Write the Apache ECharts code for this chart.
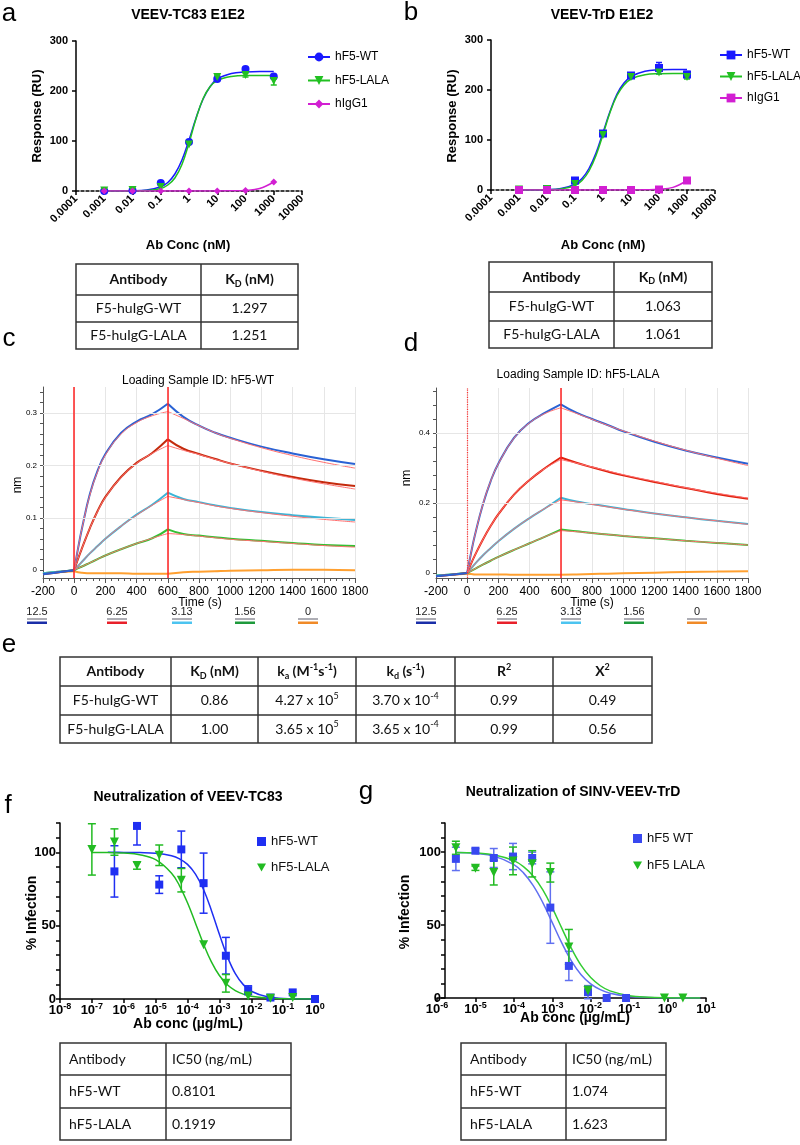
<!DOCTYPE html>
<html><head><meta charset="utf-8">
<script src="https://cdn.jsdelivr.net/npm/echarts@6/dist/echarts.min.js"></script>
<style>html,body{margin:0;padding:0;background:#fff}#c{width:800px;height:1145px}</style>
</head><body><div id="c"></div>
<script>
// ================= DATA =================
// Panels a / b : binding curves
const abConc = [0.001, 0.01, 0.1, 1, 10, 100, 1000];
const abTickLabels = ['0.0001','0.001','0.01','0.1','1','10','100','1000','10000'];
const aWT = [0, 1, 16, 98, 224, 244, 229];
const aWTErr = [0, 0, 0, 0, 3, 3, 4];
const aLALA = [1, 2, 8, 93, 228, 232, 220];
const aLALAErr = [0, 0, 0, 0, 3, 4, 8];
const aIgG = [0, 0, 0, 0, 0, 1, 18];
const abFitLog = [-3,-2,-1.5,-1,-0.75,-0.5,-0.25,0,0.25,0.5,0.75,1,1.5,2,2.5,3];
const aWTFit = [0.1,0.5,2,8.6,17,34,62,102,146,184,209,224,235,238,239,239];
const aLALAFit = [0,0.2,1,5,12,26,53,96,145,185,209,221,229,231,231,231];
const aIgGFit = [0,0,0,0,0,0,0,0,0,0,0,0,0.3,1.2,5,18];
const bWT = [0, 2, 19, 113, 229, 244, 231];
const bWTErr = [0, 0, 0, 0, 2, 11, 6];
const bLALA = [1, 2, 12, 110, 226, 235, 226];
const bLALAErr = [0, 0, 0, 0, 2, 3, 4];
const bIgG = [0, 0, 0, 0, 0, 1, 19];
const bWTFit = [0.1,0.7,2.9,11.8,23,43,74,115,157,192,214,227,237.6,240.3,241,241];
const bLALAFit = [0.05,0.5,2,9,19,38,69,111,155,189,210,222,230.6,232.6,233,233];
const bIgGFit = [0,0,0,0,0,0,0,0,0,0,0,0,0.3,1.3,5.3,19];

// Panels c / d : BLI sensorgrams (nm)
const bliTime = [-200,-100,0,25,50,100,150,200,300,400,500,600,700,800,900,1000,1200,1400,1600,1800];
const bliConcLabels = ['12.5','6.25','3.13','1.56','0'];
const cBlue   = [-0.008,-0.004,0,0.042,0.08,0.145,0.19,0.222,0.262,0.284,0.298,0.318,0.293,0.276,0.263,0.253,0.236,0.223,0.212,0.203];
const cRed    = [-0.008,-0.004,0,0.022,0.042,0.08,0.113,0.14,0.178,0.205,0.224,0.25,0.232,0.222,0.213,0.204,0.19,0.178,0.168,0.161];
const cCyan   = [-0.006,-0.003,0,0.008,0.016,0.032,0.046,0.06,0.084,0.106,0.125,0.148,0.136,0.13,0.124,0.119,0.111,0.105,0.1,0.096];
const cGreen  = [-0.006,-0.003,0,0.004,0.007,0.014,0.021,0.028,0.04,0.051,0.061,0.078,0.069,0.066,0.063,0.06,0.056,0.052,0.048,0.046];
const cOrange = [-0.007,-0.004,-0.002,-0.004,-0.005,-0.006,-0.006,-0.006,-0.006,-0.007,-0.007,-0.007,-0.004,-0.003,-0.002,-0.001,0,0.001,0.001,0];
const cBlueFit  = [null,null,0,0.042,0.08,0.143,0.188,0.22,0.26,0.282,0.295,0.303,0.29,0.276,0.263,0.252,0.234,0.219,0.206,0.195];
const cRedFit   = [null,null,0,0.022,0.042,0.08,0.112,0.139,0.177,0.204,0.223,0.238,0.229,0.221,0.212,0.204,0.189,0.176,0.165,0.155];
const cCyanFit  = [null,null,0,0.008,0.016,0.032,0.046,0.06,0.084,0.105,0.124,0.141,0.135,0.129,0.123,0.118,0.11,0.103,0.097,0.092];
const cGreenFit = [null,null,0,0.004,0.007,0.014,0.021,0.028,0.04,0.051,0.061,0.07,0.068,0.065,0.062,0.059,0.055,0.051,0.047,0.044];
const dBlue   = [-0.009,-0.005,0,0.058,0.109,0.195,0.262,0.313,0.386,0.43,0.458,0.482,0.458,0.44,0.423,0.405,0.375,0.35,0.33,0.312];
const dRed    = [-0.009,-0.005,0,0.027,0.051,0.095,0.134,0.168,0.224,0.266,0.3,0.33,0.315,0.302,0.29,0.279,0.26,0.243,0.226,0.212];
const dCyan   = [-0.007,-0.004,0,0.013,0.026,0.05,0.071,0.091,0.126,0.157,0.185,0.215,0.204,0.197,0.19,0.183,0.17,0.159,0.149,0.14];
const dGreen  = [-0.007,-0.004,0,0.006,0.012,0.024,0.035,0.046,0.066,0.085,0.104,0.124,0.119,0.114,0.11,0.106,0.099,0.092,0.086,0.08];
const dOrange = [-0.008,-0.005,-0.002,-0.003,-0.004,-0.004,-0.004,-0.004,-0.005,-0.005,-0.005,-0.005,-0.004,-0.003,-0.002,-0.001,0.001,0.003,0.004,0.005];
const dBlueFit  = [null,null,0,0.058,0.109,0.195,0.262,0.312,0.385,0.429,0.456,0.472,0.456,0.439,0.422,0.406,0.377,0.351,0.328,0.307];
const dRedFit   = [null,null,0,0.027,0.051,0.095,0.134,0.168,0.224,0.266,0.299,0.324,0.314,0.303,0.292,0.281,0.262,0.244,0.228,0.214];
const dCyanFit  = [null,null,0,0.013,0.026,0.05,0.071,0.091,0.126,0.157,0.185,0.209,0.203,0.196,0.189,0.182,0.17,0.159,0.149,0.139];
const dGreenFit = [null,null,0,0.006,0.012,0.024,0.035,0.046,0.066,0.085,0.104,0.121,0.118,0.114,0.11,0.106,0.099,0.092,0.086,0.08];
const cYLabels = [0, 0.1, 0.2, 0.3];
const cYTicks = [0,0.02,0.04,0.06,0.08,0.1,0.12,0.14,0.16,0.18,0.2,0.22,0.24,0.26,0.28,0.3,0.32,0.34];
const dYLabels = [0, 0.2, 0.4];
const dYTicks = [0,0.04,0.08,0.12,0.16,0.2,0.24,0.28,0.32,0.36,0.4,0.44,0.48,0.52];

// Panels f / g : neutralization
const fConc = [1.0e-7, 5.1e-7, 2.6e-6, 1.3e-5, 6.4e-5, 3.2e-4, 1.6e-3, 8.0e-3, 4.0e-2, 2.0e-1, 1.0];
const fWT = [null, 87, 118, 78, 102, 79, 29.5, 6, 1, 4.5, 0];
const fWTErr = [null, 17.5, 13, 6, 12.5, 20.5, 12.5, 3, 0, 0, 0];
const fLALA = [102, 107, 91, 98, 81, 37, 10.7, 2, 0.5, 1, null];
const fLALAErr = [17.5, 9, 2.5, 7, 8, 0, 6, 0, 0, 0, null];
const fCurveLog = [-7,-6.5,-6,-5.5,-5,-4.5,-4.25,-4,-3.75,-3.5,-3.25,-3,-2.75,-2.5,-2.25,-2,-1.5,-1,-0.5,0];
const fWTFit = [null,99.99,99.96,99.83,99.4,97.7,95.6,91.8,85.2,74.8,60.4,44.1,28.9,17.3,9.8,5.3,1.5,0.4,0.1,0.03];
const fLALAFit = [99.95,99.83,99.48,98.4,95.0,85.8,77.2,65.6,51.7,37.6,25.3,16.0,9.7,5.7,3.3,1.9,0.6,0.19,0.06,0.02];
const gConc = [3.1e-6, 1.0e-5, 3.0e-5, 9.5e-5, 3.0e-4, 8.9e-4, 2.7e-3, 8.5e-3, 2.6e-2, 8.3e-2, 0.83, 2.5];
const gWT = [95.4, 101, 96, 97, 96, 62, 22, 4, 0, 0, null, null];
const gWTErr = [8, 1.5, 6.5, 9, 4, 24.5, 10, 4.5, 0, 0, null, null];
const gLALA = [103, 89, 86, 94, 92, 86, 35, 5, null, null, 0, 0];
const gLALAErr = [4.5, 1.5, 8.5, 9.5, 9, 6.5, 12, 3, null, null, 0, 0];
const gCurveLog = [-5.5,-5,-4.5,-4,-3.75,-3.5,-3.25,-3,-2.75,-2.5,-2.25,-2,-1.75,-1.5,-1,-0.5,0,0.5,0.85];
const gWTFit = [99.7,99.1,97.1,91.5,85.8,77.2,65.6,51.7,37.6,25.3,16.0,9.7,5.7,3.3,1.06,0.34,0.11,0.03,0.01];
const gLALAFit = [99.8,99.4,98.1,94.2,90.1,83.7,74.3,61.8,47.7,33.9,22.4,14.0,8.4,4.9,1.6,0.5,0.16,0.05,0.02];

// Tables (rich-text markup)
const tableAB_head = ['{h|Antibody}', '{h|K}{hs|D}{h| (nM)}'];
const tableA_rows = [['{n|F5-huIgG-WT}','{n|1.297}'],['{n|F5-huIgG-LALA}','{n|1.251}']];
const tableB_rows = [['{n|F5-huIgG-WT}','{n|1.063}'],['{n|F5-huIgG-LALA}','{n|1.061}']];
const tableE_head = ['{h|Antibody}','{h|K}{hs|D}{h| (nM)}','{h|k}{hs|a}{h| (M}{hp|-1}{h|s}{hp|-1}{h|)}','{h|k}{hs|d}{h| (s}{hp|-1}{h|)}','{h|R}{hp|2}','{h|X}{hp|2}'];
const tableE_rows = [
  ['{n|F5-huIgG-WT}','{n|0.86}','{n|4.27 x 10}{np|5}','{n|3.70 x 10}{np|-4}','{n|0.99}','{n|0.49}'],
  ['{n|F5-huIgG-LALA}','{n|1.00}','{n|3.65 x 10}{np|5}','{n|3.65 x 10}{np|-4}','{n|0.99}','{n|0.56}']];
const tableFG_head = ['{n|Antibody}','{n|IC50 (ng/mL)}'];
const tableF_rows = [['{n|hF5-WT}','{n|0.8101}'],['{n|hF5-LALA}','{n|0.1919}']];
const tableG_rows = [['{n|hF5-WT}','{n|1.074}'],['{n|hF5-LALA}','{n|1.623}']];

// ================= BUILD =================
const FONT = '"Liberation Sans", Arial, sans-serif';
const TFONT = 'Lato, "Liberation Sans", sans-serif';
const chart = echarts.init(document.getElementById('c'), null, {renderer:'canvas', width:800, height:1145});

const pts = (xs, ys) => xs.map((x,i)=> ys[i]==null ? null : [x, ys[i]]).filter(Boolean);
const errPts = (xs, ys, es) => xs.map((x,i)=> (ys[i]==null || !es[i]) ? null : [x, ys[i], es[i]]).filter(Boolean);
const fitPts = (logs, ys) => logs.map((L,i)=> ys[i]==null ? null : [Math.pow(10, L), ys[i]]).filter(Boolean);

function errSeries(gi, data, color, cap, ymax) {
  return {type:'custom', xAxisIndex:gi, yAxisIndex:gi, data, z:3, silent:true,
    encode:{x:0, y:1},
    renderItem:(params, api) => {
      const x = api.value(0), y = api.value(1), e = api.value(2);
      const hi = Math.min(y + e, ymax);
      const t = api.coord([x, hi]), b = api.coord([x, y - e]);
      const st = {stroke:color, lineWidth:1.5};
      const ch = [{type:'line', shape:{x1:t[0],y1:t[1],x2:b[0],y2:b[1]}, style:st},
                  {type:'line', shape:{x1:b[0]-cap,y1:b[1],x2:b[0]+cap,y2:b[1]}, style:st}];
      if (y + e <= ymax) ch.push({type:'line', shape:{x1:t[0]-cap,y1:t[1],x2:t[0]+cap,y2:t[1]}, style:st});
      return {type:'group', children:ch};
    }};
}
function fitLine(name, gi, data, color, symbol, rot, width) {
  return {type:'line', name, xAxisIndex:gi, yAxisIndex:gi, data, smooth:0.4,
    showSymbol:false, symbol, symbolSize:8, symbolRotate:rot||0, itemStyle:{color},
    lineStyle:{color, width:width||1.5}, z:2, silent:true};
}
function scat(name, gi, data, color, symbol, size, rot) {
  return {type:'scatter', name, xAxisIndex:gi, yAxisIndex:gi, data, symbol, symbolSize:size,
    symbolRotate:rot||0, itemStyle:{color, opacity:1}, z:4, silent:true};
}
// a sensorgram is drawn as three smooth segments: baseline, association, dissociation
function trace(gi, ys, color, w) {
  const segs = [[0, 2], [2, 11], [11, 19]];
  return segs.map(([s, e]) => ({type:'line', xAxisIndex:gi, yAxisIndex:gi,
    data:pts(bliTime.slice(s, e+1), ys.slice(s, e+1)), smooth:0.45,
    showSymbol:false, symbol:'none', lineStyle:{color, width:w||2}, z:2, silent:true}));
}

const boldAxisLine = {show:true, onZero:false, lineStyle:{color:'#000', width:1.5}};
const boldTick = {show:true, length:4, lineStyle:{color:'#000', width:1.5}};
const logLab = v => abTickLabels[Math.round(Math.log10(v)) + 4];
const supLab = v => { const e = Math.round(Math.log10(v)); return '{b|10}{s|' + e + '}'; };
const supRich = {b:{fontSize:13, fontWeight:'bold', fontFamily:FONT, color:'#000', lineHeight:16},
                 s:{fontSize:9, fontWeight:'bold', fontFamily:FONT, color:'#000', lineHeight:9, verticalAlign:'top'}};
const bliAxisLine = {show:true, onZero:false, lineStyle:{color:'#555', width:1}};

const grid = [
  {left:76, top:41, width:226, height:150},
  {left:491, top:40, width:224, height:150},
  {left:43, top:387, width:312, height:191},
  {left:436, top:388, width:312, height:190},
  {left:60, top:823, width:255, height:176},
  {left:437, top:823, width:269, height:175}
];
const abX = gi => ({gridIndex:gi, type:'log', logBase:10, min:1e-4, max:1e4,
  axisLine:{show:true, onZero:false, lineStyle:{color:'#000', width:1.5, type:[3,2]}}, axisTick:boldTick,
  splitLine:{show:false}, minorTick:{show:false}, minorSplitLine:{show:false},
  axisLabel:{interval:0, rotate:45, margin:6, color:'#000', fontWeight:'bold', fontSize:11, fontFamily:FONT, formatter:logLab}});
const abY = gi => ({gridIndex:gi, type:'value', min:0, max:300, interval:100, axisLine:boldAxisLine, axisTick:boldTick,
  splitLine:{show:false}, axisLabel:{color:'#000', fontWeight:'bold', fontSize:11, fontFamily:FONT, margin:8}});
const bliX = gi => ({gridIndex:gi, type:'value', min:-200, max:1800, interval:200, axisLine:bliAxisLine,
  axisTick:{show:true, length:5, lineStyle:{color:'#555'}}, minorTick:{show:true, splitNumber:5, length:3, lineStyle:{color:'#555'}},
  splitLine:{show:true, lineStyle:{color:'#e6e6e6', width:1}},
  axisLabel:{interval:0, fontSize:12, color:'#000', margin:8, fontFamily:FONT, formatter:v => String(v)}});
const bliY = (gi, mn, mx, labs, ticks) => ({gridIndex:gi, type:'value', min:mn, max:mx, axisLine:bliAxisLine,
  axisTick:{show:true, length:3, customValues:ticks, lineStyle:{color:'#555'}}, splitLine:{show:false},
  axisLabel:{customValues:labs, fontSize:8, color:'#000', margin:6, fontFamily:FONT, formatter:v => v===0 ? '0' : v.toFixed(1)}});
const neuX = (gi, mn, mx) => ({gridIndex:gi, type:'log', logBase:10, min:mn, max:mx, axisLine:boldAxisLine, axisTick:boldTick,
  splitLine:{show:false}, minorTick:{show:false}, minorSplitLine:{show:false},
  axisLabel:{interval:0, margin:3, formatter:supLab, rich:supRich}});
const neuY = (gi, off) => ({gridIndex:gi, type:'value', min:0, max:120, interval:10, offset:off||0, axisLine:boldAxisLine,
  axisTick:{show:true, length:4, lineStyle:{color:'#000', width:1.5}}, splitLine:{show:false},
  axisLabel:{color:'#000', fontWeight:'bold', fontSize:13, fontFamily:FONT, margin:4, formatter:v => (v % 50 === 0 ? String(v) : '')}});

const xAxis = [abX(0), abX(1), bliX(2), bliX(3), neuX(4, 1e-8, 1), neuX(5, 1e-6, 10)];
const yAxis = [abY(0), abY(1), bliY(2, -0.015, 0.35, cYLabels, cYTicks), bliY(3, -0.0143, 0.5286, dYLabels, dYTicks), neuY(4), neuY(5, -8)];

const BLUE = '#1a1aff', GREEN = '#22c022', MAG = '#d21fd2';
const series = [];
// panel a
series.push(fitLine('a:hF5-WT', 0, fitPts(abFitLog, aWTFit), BLUE, 'circle'));
series.push(fitLine('a:hF5-LALA', 0, fitPts(abFitLog, aLALAFit), GREEN, 'triangle', 180));
series.push(fitLine('a:hIgG1', 0, fitPts(abFitLog, aIgGFit), MAG, 'diamond'));
series.push(errSeries(0, errPts(abConc, aWT, aWTErr), BLUE, 3, 300));
series.push(errSeries(0, errPts(abConc, aLALA, aLALAErr), GREEN, 3, 300));
series.push(scat('a:p1', 0, pts(abConc, aWT), BLUE, 'circle', 8));
series.push(scat('a:p2', 0, pts(abConc, aLALA), GREEN, 'triangle', 8, 180));
series.push(scat('a:p3', 0, pts(abConc, aIgG), MAG, 'diamond', 7));
// panel b
series.push(fitLine('b:hF5-WT', 1, fitPts(abFitLog, bWTFit), BLUE, 'rect'));
series.push(fitLine('b:hF5-LALA', 1, fitPts(abFitLog, bLALAFit), GREEN, 'triangle', 180));
series.push(fitLine('b:hIgG1', 1, fitPts(abFitLog, bIgGFit), MAG, 'rect'));
series.push(errSeries(1, errPts(abConc, bWT, bWTErr), BLUE, 3, 300));
series.push(errSeries(1, errPts(abConc, bLALA, bLALAErr), GREEN, 3, 300));
series.push(scat('b:p1', 1, pts(abConc, bWT), BLUE, 'rect', 8));
series.push(scat('b:p2', 1, pts(abConc, bLALA), GREEN, 'triangle', 8, 180));
series.push(scat('b:p3', 1, pts(abConc, bIgG), MAG, 'rect', 8));
// panels c / d
const TC = ['#2a62d4', '#c42a0c', '#3cb4d6', '#34c034', '#ffa030'];
const TD = ['#2a62d4', '#e0220e', '#3cb4d6', '#34c034', '#ffa030'];
const FIT = '#ff7070';
function bliPanel(gi, data, fits, cols, dotted0) {
  series.push({type:'line', xAxisIndex:gi, yAxisIndex:gi, data:[], z:1, silent:true,
    markLine:{silent:true, symbol:'none', label:{show:false}, animation:false,
      lineStyle:{color:'#e6e6e6', width:1, type:'solid'},
      data:(gi===2 ? [0.1,0.2,0.3] : [0.2,0.4]).map(v => ({yAxis:v}))}});
  [4,3,2,1,0].forEach(i => trace(gi, data[i], cols[i]).forEach(s => series.push(s)));
  fits.forEach(f => trace(gi, f, FIT, 1).forEach(s => series.push(s)));
  // solid red line at the start of dissociation (and association for panel c)
  series.push({type:'line', xAxisIndex:gi, yAxisIndex:gi, data:[], z:6, silent:true,
    markLine:{silent:true, symbol:'none', label:{show:false}, animation:false,
      lineStyle:{color:'#ff2020', width:1.5, type:'solid'},
      data:dotted0 ? [{xAxis:600}] : [{xAxis:0}, {xAxis:600}]}});
  if (dotted0) {
    series.push({type:'line', xAxisIndex:gi, yAxisIndex:gi, data:[], z:6, silent:true, itemStyle:{color:'#ff3030'},
      markLine:{silent:true, symbol:'none', label:{show:false}, animation:false,
        lineStyle:{color:'#ff3030', width:1.2, type:'dotted', opacity:1},
        data:[{xAxis:0}]}});
  }
}
bliPanel(2, [cBlue, cRed, cCyan, cGreen, cOrange], [cBlueFit, cRedFit, cCyanFit, cGreenFit], TC, false);
bliPanel(3, [dBlue, dRed, dCyan, dGreen, dOrange], [dBlueFit, dRedFit, dCyanFit, dGreenFit], TD, true);
// panel f
const FB = '#1f2ff2', FG = '#22bb22';
series.push(fitLine('f:c1', 4, fitPts(fCurveLog, fWTFit), FB, 'none'));
series.push(fitLine('f:c2', 4, fitPts(fCurveLog, fLALAFit), FG, 'none'));
series.push(errSeries(4, errPts(fConc, fWT, fWTErr), FB, 4, 120));
series.push(errSeries(4, errPts(fConc, fLALA, fLALAErr), FG, 4, 120));
series.push(scat('f:hF5-WT', 4, pts(fConc, fWT), FB, 'rect', 8));
series.push(scat('f:hF5-LALA', 4, pts(fConc, fLALA), FG, 'triangle', 9, 180));
// panel g
const GB = '#3848f0', GBL = '#6070f0', GG = '#22bb22', GGL = '#33cc33';
series.push(fitLine('g:c1', 5, fitPts(gCurveLog, gWTFit), GBL, 'none'));
series.push(fitLine('g:c2', 5, fitPts(gCurveLog, gLALAFit), GGL, 'none'));
series.push(errSeries(5, errPts(gConc, gWT, gWTErr), GBL, 4, 120));
series.push(errSeries(5, errPts(gConc, gLALA, gLALAErr), GG, 4, 120));
series.push(scat('g:hF5 WT', 5, pts(gConc, gWT), GB, 'rect', 8));
series.push(scat('g:hF5 LALA', 5, pts(gConc, gLALA), GG, 'triangle', 9, 180));

const DOWN_TRI = 'path://M0,0L10,0L5,9Z';
const strip = n => n.split(':')[1];
const legend = [
  {left:302, top:46, orient:'vertical', itemWidth:22, itemHeight:11, itemGap:11.5, selectedMode:false,
   data:['a:hF5-WT',{name:'a:hF5-LALA', symbolRotate:180},'a:hIgG1'], formatter:strip, textStyle:{fontSize:12, color:'#000', fontFamily:FONT}},
  {left:714, top:44, orient:'vertical', itemWidth:22, itemHeight:11, itemGap:9.5, selectedMode:false,
   data:['b:hF5-WT',{name:'b:hF5-LALA', symbolRotate:180},'b:hIgG1'], formatter:strip, textStyle:{fontSize:12, color:'#000', fontFamily:FONT}},
  {left:252, top:830, orient:'vertical', itemWidth:9, itemHeight:9, itemGap:13, selectedMode:false,
   data:['f:hF5-WT',{name:'f:hF5-LALA', icon:DOWN_TRI}], formatter:strip, textStyle:{fontSize:13, color:'#111', fontFamily:FONT}},
  {left:628, top:827, orient:'vertical', itemWidth:9, itemHeight:9, itemGap:14, selectedMode:false,
   data:['g:hF5 WT',{name:'g:hF5 LALA', icon:DOWN_TRI}], formatter:strip, textStyle:{fontSize:13, color:'#111', fontFamily:FONT}}
];

// ---- graphic: letters, titles, axis names, tables, BLI legends ----
function txt(x, y, text, o) {
  o = o || {};
  const st = {text, fill:o.color || '#000', fontSize:o.size || 12, fontWeight:o.bold ? 'bold' : 'normal',
    fontFamily:o.font || FONT, align:o.align || 'center', textAlign:o.align || 'center',
    verticalAlign:'middle', textVerticalAlign:'middle'};
  if (o.rich) st.rich = o.rich;
  return {type:'text', x, y, rotation:o.rot || 0, silent:true, z:10, style:st};
}
const ln = (x1, y1, x2, y2, c, w) => ({type:'line', silent:true, z:10, shape:{x1, y1, x2, y2}, style:{stroke:c || '#333', lineWidth:w || 1.5}});
const RICH = {
  h:{fontFamily:TFONT, fontSize:14, fontWeight:'bold', fill:'#111', lineHeight:18},
  hs:{fontFamily:TFONT, fontSize:9, fontWeight:'bold', fill:'#111', lineHeight:9, verticalAlign:'bottom'},
  hp:{fontFamily:TFONT, fontSize:9, fontWeight:'bold', fill:'#111', lineHeight:9, verticalAlign:'top'},
  n:{fontFamily:TFONT, fontSize:14, fill:'#111', lineHeight:18},
  np:{fontFamily:TFONT, fontSize:9, fill:'#111', lineHeight:9, verticalAlign:'top'}
};
function table(cols, rows, cells, align, pads) {
  const els = [];
  const L = cols[0], R = cols[cols.length-1], T = rows[0], B = rows[rows.length-1];
  els.push({type:'rect', silent:true, z:10, shape:{x:L, y:T, width:R-L, height:B-T}, style:{fill:'none', stroke:'#333', lineWidth:1.5}});
  for (let i = 1; i < rows.length-1; i++) els.push(ln(L, rows[i], R, rows[i]));
  for (let j = 1; j < cols.length-1; j++) els.push(ln(cols[j], T, cols[j], B));
  cells.forEach((row, r) => row.forEach((c, k) => {
    const cy = (rows[r] + rows[r+1]) / 2;
    const cx = align === 'left' ? cols[k] + pads[k] : (cols[k] + cols[k+1]) / 2;
    els.push({type:'text', silent:true, z:11, x:cx, y:cy,
      style:{text:c, rich:RICH, align, textAlign:align, verticalAlign:'middle', textVerticalAlign:'middle', fontFamily:TFONT, fontSize:14, fill:'#111'}});
  }));
  return els;
}
function bliLegend(xs) {
  const els = [];
  const bar = ['#1a2ea8', '#e8202a', '#4cc4f0', '#1e9a3c', '#f08a28'];
  bliConcLabels.forEach((lab, i) => {
    els.push(txt(xs[i], 612, lab, {size:11, color:'#222'}));
    els.push(ln(xs[i]-10, 619, xs[i]+10, 619, '#334', 0.8));
    els.push({type:'rect', silent:true, z:10, shape:{x:xs[i]-10, y:621.5, width:20, height:2.5}, style:{fill:bar[i]}});
  });
  return els;
}
const P = Math.PI / 2;
const graphic = [].concat(
  [txt(9, 14, 'a', {size:26}), txt(411, 13, 'b', {size:26}), txt(9, 339, 'c', {size:26}), txt(411, 344, 'd', {size:26}),
   txt(9, 645, 'e', {size:26}), txt(8, 806, 'f', {size:26}), txt(366, 792, 'g', {size:26})],
  [txt(188, 15, 'VEEV-TC83 E1E2', {size:14, bold:true}), txt(602, 15, 'VEEV-TrD E1E2', {size:14, bold:true}),
   txt(37, 116, 'Response (RU)', {size:13, bold:true, rot:P}), txt(452, 116, 'Response (RU)', {size:13, bold:true, rot:P}),
   txt(188, 245, 'Ab Conc (nM)', {size:13, bold:true}), txt(603, 245, 'Ab Conc (nM)', {size:13, bold:true})],
  [txt(198, 381, 'Loading Sample ID: hF5-WT', {size:12}), txt(578, 375, 'Loading Sample ID: hF5-LALA', {size:12}),
   txt(18, 485, 'nm', {size:12, rot:P}), txt(407, 478, 'nm', {size:12, rot:P}),
   txt(200, 603, 'Time (s)', {size:12}), txt(592, 603, 'Time (s)', {size:12})],
  bliLegend([37, 117, 182, 245, 308]), bliLegend([426, 507, 571, 634, 697]),
  [txt(188, 797, 'Neutralization of VEEV-TC83', {size:14, bold:true}), txt(573, 792, 'Neutralization of SINV-VEEV-TrD', {size:14, bold:true}),
   txt(32, 913, '% Infection', {size:14, bold:true, rot:P}), txt(405, 912, '% Infection', {size:14, bold:true, rot:P}),
   txt(188, 1024, 'Ab conc (µg/mL)', {size:14, bold:true}), txt(575, 1018, 'Ab conc (µg/mL)', {size:14, bold:true})],
  table([76, 201, 298], [264, 295, 322, 349], [tableAB_head].concat(tableA_rows), 'center'),
  table([489, 614, 712], [262, 292, 321, 348], [tableAB_head].concat(tableB_rows), 'center'),
  table([60, 171, 258, 356, 455, 553, 652], [657, 686, 715, 743], [tableE_head].concat(tableE_rows), 'center'),
  table([60, 166, 291], [1043, 1075, 1108, 1140], [tableFG_head].concat(tableF_rows), 'left', [9, 6]),
  table([461, 566, 666], [1043, 1075, 1108, 1140], [tableFG_head].concat(tableG_rows), 'left', [9, 6])
);

chart.setOption({
  backgroundColor:'#fff', animation:false,
  textStyle:{fontFamily:FONT},
  grid, xAxis, yAxis, series, legend, graphic
});
</script></body></html>
